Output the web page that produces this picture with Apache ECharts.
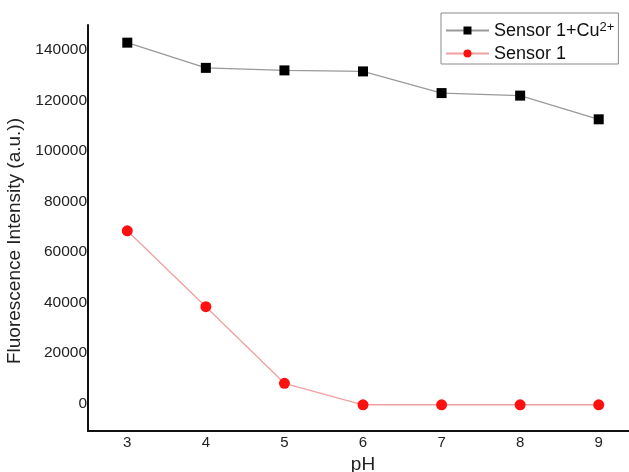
<!DOCTYPE html>
<html>
<head>
<meta charset="utf-8">
<script src="https://cdn.jsdelivr.net/npm/echarts@6/dist/echarts.min.js"></script>
<style>
  html, body { margin: 0; padding: 0; background: #fff; }
  #chart { width: 629px; height: 472px; }
</style>
</head>
<body>
<div id="chart"></div>
<script>
// pH values on the x axis
const phValues = [3, 4, 5, 6, 7, 8, 9];
// Fluorescence intensity (a.u.) for each series
const sensorCuValues = [143000, 133000, 132000, 131600, 123000, 122000, 112600];
const sensorValues = [68400, 38300, 7900, -600, -600, -600, -600];
// Labelled ticks on the intensity axis
const yTickLabels = [0, 20000, 40000, 60000, 80000, 100000, 120000, 140000];

const seriesNames = ['Sensor 1+Cu2+', 'Sensor 1'];
const font = '"Liberation Sans", Arial, sans-serif';

const chart = echarts.init(document.getElementById('chart'), null, { renderer: 'canvas' });

chart.setOption({
  animation: false,
  backgroundColor: '#ffffff',
  grid: { left: 88, right: -9, top: 25, bottom: 41, containLabel: false, outerBoundsMode: 'none' },
  legend: {
    orient: 'vertical',
    left: 441,
    top: 13,
    backgroundColor: '#ffffff',
    borderColor: '#8a8a8a',
    borderWidth: 1,
    borderRadius: 0,
    padding: [8, 4, 1, 4],
    itemWidth: 43,
    itemHeight: 10,
    itemGap: 2,
    data: seriesNames,
    formatter: function (name) {
      if (name === 'Sensor 1+Cu2+') return '{t|Sensor 1+Cu}{s|2+}';
      return '{t|' + name + '}';
    },
    textStyle: {
      fontFamily: font,
      fontSize: 18,
      color: '#111',
      rich: {
        t: { fontFamily: font, fontSize: 18, color: '#111', lineHeight: 19, verticalAlign: 'bottom' },
        s: { fontFamily: font, fontSize: 13, color: '#111', lineHeight: 19, verticalAlign: 'top', padding: [0, 0, 9, 0] }
      }
    }
  },
  xAxis: {
    type: 'value',
    min: 2.5,
    max: 9.5,
    interval: 0.5,
    name: 'pH',
    nameLocation: 'middle',
    nameGap: 21,
    nameTextStyle: { fontFamily: font, fontSize: 19, color: '#222' },
    axisLine: { show: true, onZero: false, lineStyle: { color: '#111', width: 2 } },
    axisTick: { show: false },
    splitLine: { show: false },
    axisLabel: {
      fontFamily: font,
      fontSize: 15,
      color: '#222',
      margin: 4,
      formatter: function (v) { return phValues.indexOf(v) >= 0 ? String(v) : ''; }
    }
  },
  yAxis: {
    type: 'value',
    min: -11000,
    max: 150000,
    interval: 1000,
    name: 'Fluorescence Intensity (a.u.))',
    nameLocation: 'middle',
    nameGap: 62,
    nameTextStyle: { fontFamily: font, fontSize: 19, color: '#222', padding: [0, 26, 0, 0] },
    axisLine: { show: true, onZero: false, lineStyle: { color: '#111', width: 2 } },
    axisTick: { show: false },
    splitLine: { show: false },
    axisLabel: {
      fontFamily: font,
      fontSize: 15.5,
      color: '#222',
      margin: 1,
      formatter: function (v) { return yTickLabels.indexOf(v) >= 0 ? String(v) : ''; }
    }
  },
  series: [
    {
      name: seriesNames[0],
      type: 'line',
      data: phValues.map((x, i) => [x, sensorCuValues[i]]),
      symbol: 'rect',
      symbolSize: 10,
      itemStyle: { color: '#000000' },
      lineStyle: { color: '#9a9a9a', width: 1.3 }
    },
    {
      name: seriesNames[1],
      type: 'line',
      data: phValues.map((x, i) => [x, sensorValues[i]]),
      symbol: 'circle',
      symbolSize: 11,
      itemStyle: { color: '#ff1010' },
      lineStyle: { color: '#f0a0a0', width: 1.3 }
    }
  ]
});
</script>
</body>
</html>
